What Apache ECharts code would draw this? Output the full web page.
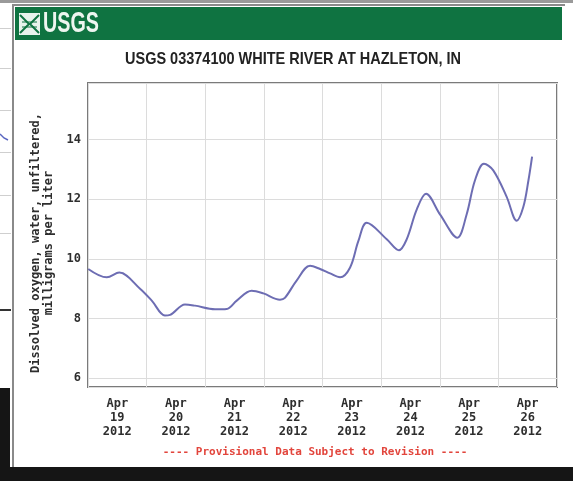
<!DOCTYPE html>
<html>
<head>
<meta charset="utf-8">
<script src="https://cdn.jsdelivr.net/npm/echarts@6/dist/echarts.min.js"></script>
<style>
  html, body { margin: 0; padding: 0; background: #ffffff; }
  #chart { width: 573px; height: 481px; }
</style>
</head>
<body>
<div id="chart"></div>
<script>
// Dissolved oxygen record, hours after 2012-04-19 00:00 and mg/L
const hours = [0.1, 7.7, 12.8, 21.3, 26.1, 31.5, 33.6, 39.7, 43.8, 52.0, 56.8, 60.9,
  67.0, 71.8, 78.6, 80.6, 85.4, 90.9, 95.0, 99.1, 103.2, 107.3, 110.7, 114.1,
  122.3, 127.3, 130.5, 134.6, 138.4, 144.1, 151.2, 155.0, 158.4, 162.1, 165.9,
  171.4, 175.5, 178.2, 180.3, 181.8];
const oxygen = [9.66, 9.38, 9.54, 9.0, 8.6, 8.1, 8.12, 8.47, 8.43, 8.31, 8.32, 8.6,
  8.93, 8.84, 8.63, 8.69, 9.27, 9.77, 9.66, 9.51, 9.38, 9.71, 10.6, 11.21,
  10.66, 10.29, 10.66, 11.66, 12.18, 11.49, 10.71, 11.49, 12.63, 13.19, 12.97,
  12.08, 11.28, 11.74, 12.63, 13.43];

// Day labels (centred on each day)
const dayLabels = ['Apr\n19\n2012', 'Apr\n20\n2012', 'Apr\n21\n2012', 'Apr\n22\n2012',
  'Apr\n23\n2012', 'Apr\n24\n2012', 'Apr\n25\n2012', 'Apr\n26\n2012'];

const titleText = 'USGS 03374100 WHITE RIVER AT HAZLETON, IN';
const yAxisTitle = 'Dissolved oxygen, water, unfiltered,\nmilligrams per liter';
const noteText = '---- Provisional Data Subject to Revision ----';

const mono = 'DejaVu Sans Mono';
const narrowFont = '"Liberation Sans Narrow", "Liberation Sans", Arial, sans-serif';

// squeeze a bold sans string into a narrow width (no condensed face is installed)
function squeeze(text, font, targetWidth) {
  const ctx = document.createElement('canvas').getContext('2d');
  ctx.font = font;
  const w = ctx.measureText(text).width;
  return w > 0 ? Math.min(1, targetWidth / w) : 1;
}
const titleFont = 'bold 17px ' + narrowFont;
const logoFont = 'bold 30px ' + narrowFont;
const titleScale = squeeze(titleText, titleFont, 336);
const logoScale = squeeze('USGS', logoFont, 56);

const chart = echarts.init(document.getElementById('chart'), null, { renderer: 'canvas' });

const seriesData = hours.map((h, i) => [h, oxygen[i]]);

chart.setOption({
  backgroundColor: '#ffffff',
  animation: false,
  grid: {
    left: 88, top: 83, width: 469, height: 304,
    show: true, borderColor: '#7a7a7a', borderWidth: 2, backgroundColor: 'transparent'
  },
  xAxis: [
    {
      type: 'value', min: 0, max: 192, interval: 24,
      axisLine: { show: false }, axisTick: { show: false }, axisLabel: { show: false },
      splitLine: { show: true, lineStyle: { color: '#dcdcdc', width: 1 } }
    },
    {
      type: 'category', data: dayLabels, boundaryGap: true, position: 'bottom',
      axisLine: { show: false }, axisTick: { show: false }, splitLine: { show: false },
      axisLabel: {
        margin: 10, fontFamily: mono, fontWeight: 'bold', fontSize: 12,
        lineHeight: 14, color: '#2e2e2e'
      }
    }
  ],
  yAxis: {
    type: 'value', min: 5.7, max: 15.9, splitNumber: 5,
    name: yAxisTitle, nameLocation: 'middle', nameRotate: 90, nameGap: 33,
    nameTextStyle: {
      fontFamily: mono, fontWeight: 'bold', fontSize: 12, lineHeight: 13, color: '#2e2e2e',
      padding: [0, 16, 0, 0]
    },
    axisLine: { show: false }, axisTick: { show: false },
    axisLabel: {
      margin: 7, fontFamily: mono, fontWeight: 'bold', fontSize: 12, color: '#2e2e2e',
      showMinLabel: false, showMaxLabel: false
    },
    splitLine: { show: true, lineStyle: { color: '#dcdcdc', width: 1 } }
  },
  series: [{
    type: 'line', xAxisIndex: 0, data: seriesData, smooth: 0.35,
    showSymbol: false, lineStyle: { color: '#6d6db3', width: 2 }
  }],
  graphic: [
    // window edges behind the panel
    { type: 'rect', shape: { x: 0, y: 0, width: 573, height: 3 }, style: { fill: '#9a9a9a' }, silent: true },
    { type: 'rect', shape: { x: 0, y: 467, width: 573, height: 14 }, style: { fill: '#151515' }, silent: true },
    { type: 'rect', shape: { x: 0, y: 388, width: 10, height: 93 }, style: { fill: '#151515' }, silent: true },
    { type: 'rect', shape: { x: 0, y: 309, width: 11, height: 2 }, style: { fill: '#333333' }, silent: true },
    { type: 'polyline', shape: { points: [[0, 134], [4, 138], [8, 140]] }, style: { stroke: '#5a66c0', lineWidth: 1.5, fill: null }, silent: true },
    { type: 'rect', shape: { x: 0, y: 28, width: 11, height: 1 }, style: { fill: '#cfcfcf' }, silent: true },
    { type: 'rect', shape: { x: 0, y: 68, width: 11, height: 1 }, style: { fill: '#cfcfcf' }, silent: true },
    { type: 'rect', shape: { x: 0, y: 110, width: 11, height: 1 }, style: { fill: '#cfcfcf' }, silent: true },
    { type: 'rect', shape: { x: 0, y: 152, width: 11, height: 1 }, style: { fill: '#cfcfcf' }, silent: true },
    { type: 'rect', shape: { x: 0, y: 195, width: 11, height: 1 }, style: { fill: '#cfcfcf' }, silent: true },
    { type: 'rect', shape: { x: 0, y: 233, width: 11, height: 1 }, style: { fill: '#cfcfcf' }, silent: true },
    // panel border
    { type: 'rect', shape: { x: 12, y: 4, width: 2, height: 463 }, style: { fill: '#8a8a8a' }, silent: true },
    { type: 'rect', shape: { x: 12, y: 4, width: 553, height: 2 }, style: { fill: '#8a8a8a' }, silent: true },
    // green banner with logo
    { type: 'rect', shape: { x: 15, y: 7, width: 547, height: 33 }, style: { fill: '#0f7341' }, silent: true },
    { type: 'rect', shape: { x: 19, y: 13, width: 21, height: 22 }, style: { fill: '#e8f3ec' }, silent: true },
    { type: 'polyline', shape: { points: [[20, 15], [29, 24], [20, 33]] }, style: { stroke: '#0f7341', lineWidth: 2, fill: null }, silent: true },
    { type: 'polyline', shape: { points: [[39, 15], [30, 24], [39, 33]] }, style: { stroke: '#0f7341', lineWidth: 2, fill: null }, silent: true },
    { type: 'polyline', shape: { points: [[22, 22], [37, 22]] }, style: { stroke: '#0f7341', lineWidth: 1, fill: null }, silent: true },
    { type: 'polyline', shape: { points: [[22, 27], [37, 27]] }, style: { stroke: '#0f7341', lineWidth: 1, fill: null }, silent: true },
    {
      type: 'text', x: 43, y: 9, scaleX: logoScale, silent: true,
      style: { text: 'USGS', fill: '#eef6f0', font: logoFont }
    },
    // title
    {
      type: 'text', x: 293, y: 51, scaleX: titleScale, silent: true,
      style: { text: titleText, fill: '#222222', textAlign: 'center', font: titleFont }
    },
    // provisional note
    {
      type: 'text', x: 315, y: 447, silent: true,
      style: { text: noteText, fill: '#e2453c', textAlign: 'center', font: 'bold 11px "DejaVu Sans Mono", monospace' }
    }
  ]
});
</script>
</body>
</html>
